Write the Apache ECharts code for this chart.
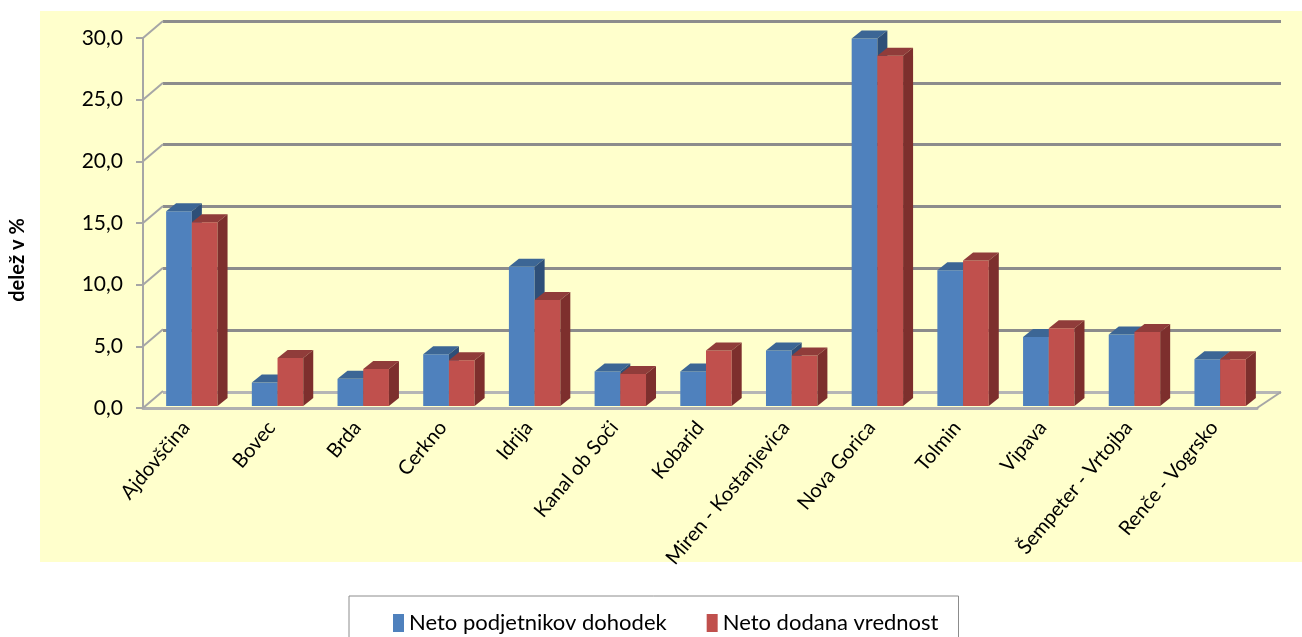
<!DOCTYPE html>
<html>
<head>
<meta charset="utf-8">
<script src="https://cdn.jsdelivr.net/npm/echarts@6/dist/echarts.min.js"></script>
<style>
  html, body { margin: 0; padding: 0; background: #fff; }
  #chart { width: 1302px; height: 637px; }
</style>
</head>
<body>
<div id="chart"></div>
<script>
const categories = ['Ajdovščina', 'Bovec', 'Brda', 'Cerkno', 'Idrija', 'Kanal ob Soči', 'Kobarid',
  'Miren - Kostanjevica', 'Nova Gorica', 'Tolmin', 'Vipava', 'Šempeter - Vrtojba', 'Renče - Vogrsko'];
const netoDohodek = [15.8, 1.9, 2.2, 4.2, 11.3, 2.8, 2.8, 4.5, 29.8, 11.0, 5.6, 5.8, 3.8];
const netoDodana = [14.9, 3.9, 3.0, 3.7, 8.6, 2.6, 4.5, 4.1, 28.4, 11.8, 6.3, 6.0, 3.8];
const yTicks = [0, 5, 10, 15, 20, 25, 30];

const FONT = 'Lato';

const chart = echarts.init(document.getElementById('chart'));

// 3d looking column drawn from the axis scales
function bar3d(slot, front, top, side) {
  return function (params, api) {
    const idx = api.value(0);
    const v = api.value(1);
    const c = api.coord([idx, v]);
    const b = api.coord([idx, 0]);
    const bw = api.size([1, 0])[0];
    const w = bw * 0.3;
    const x0 = c[0] - 0.23 * bw + slot * w;
    const yt = c[1] - 2;
    const yb = b[1] - 2;
    const dx = 10, dy = 8;
    return {
      type: 'group',
      children: [
        { type: 'rect', shape: { x: x0, y: yt, width: w, height: yb - yt }, style: { fill: front } },
        { type: 'polygon', shape: { points: [[x0, yt], [x0 + w, yt], [x0 + w + dx, yt - dy], [x0 + dx, yt - dy]] }, style: { fill: top } },
        { type: 'polygon', shape: { points: [[x0 + w, yt], [x0 + w + dx, yt - dy], [x0 + w + dx, yb - dy], [x0 + w, yb]] }, style: { fill: side } }
      ]
    };
  };
}

// left wall connectors from front ticks to back grid lines
function wallLine(params, api) {
  const c = api.coord([api.value(0), api.value(1)]);
  const bw = api.size([1, 0])[0];
  const x = c[0] + api.value(2) * bw / 2;
  const ddx = api.value(2) < 0 ? 20 : 24;
  const ddy = api.value(2) < 0 ? -17 : -16;
  return {
    type: 'line',
    shape: { x1: x, y1: c[1], x2: x + ddx, y2: c[1] + ddy },
    style: { stroke: '#a6a6a6', lineWidth: 2 }
  };
}

const option = {
  backgroundColor: '#ffffff',
  animation: false,
  textStyle: { fontFamily: FONT },
  graphic: [
    { type: 'rect', z: -100, shape: { x: 40, y: 11, width: 1262, height: 551 }, style: { fill: '#FFFFCC' } },
    {
      type: 'text', x: 18, y: 260, rotation: Math.PI / 2,
      style: { text: 'delež v %', font: 'bold 20px Lato', fill: '#000', align: 'center', verticalAlign: 'middle' }
    }
  ],
  legend: {
    data: ['Neto podjetnikov dohodek', 'Neto dodana vrednost'],
    left: 349,
    top: 596,
    icon: 'rect',
    itemWidth: 11,
    itemHeight: 18,
    itemGap: 40,
    padding: [16, 20, 30, 44],
    borderColor: '#8c8c8c',
    borderWidth: 1,
    textStyle: { fontFamily: FONT, fontSize: 22, color: '#000' }
  },
  grid: [
    { left: 143, right: 45, top: 38, bottom: 229 },
    { left: 163, right: 21, top: 21, bottom: 245 }
  ],
  xAxis: [
    {
      type: 'category',
      gridIndex: 0,
      data: categories,
      axisLine: { lineStyle: { color: '#b0b0b0', width: 3 } },
      axisTick: { length: 5, lineStyle: { color: '#a0a0a0', width: 2 } },
      axisLabel: { rotate: 50, margin: 16, fontSize: 20, color: '#000', fontFamily: FONT, interval: 0 }
    },
    { type: 'value', gridIndex: 1, show: false, min: 0, max: 1 }
  ],
  yAxis: [
    {
      type: 'value',
      gridIndex: 0,
      min: 0, max: 30, interval: 5,
      axisLine: { show: true, lineStyle: { color: '#a6a6a6', width: 2 } },
      axisTick: { show: true, length: 7, lineStyle: { color: '#a6a6a6', width: 2 } },
      splitLine: { show: false },
      axisLabel: {
        margin: 20, fontSize: 21, color: '#000', fontFamily: FONT,
        formatter: v => v.toFixed(1).replace('.', ',')
      }
    },
    {
      type: 'value',
      gridIndex: 1,
      min: 0, max: 30, interval: 5,
      axisLine: { show: false },
      axisTick: { show: false },
      axisLabel: { show: false },
      splitLine: {
        show: true,
        lineStyle: { color: ['#b6b6b6', '#8c8c8c', '#8c8c8c', '#8c8c8c', '#8c8c8c', '#8c8c8c', '#8c8c8c'], width: 3 }
      }
    }
  ],
  series: [
    {
      name: 'walls',
      type: 'custom',
      xAxisIndex: 0, yAxisIndex: 0,
      renderItem: wallLine,
      data: yTicks.map(v => [0, v, -1]).concat([[categories.length - 1, 0, 1]]),
      silent: true,
      z: 1
    },
    {
      name: 'Neto podjetnikov dohodek',
      type: 'custom',
      xAxisIndex: 0, yAxisIndex: 0,
      itemStyle: { color: '#4F81BD' },
      renderItem: bar3d(0, '#4F81BD', '#3C6695', '#2E4F78'),
      data: netoDohodek.map((v, i) => [i, v]),
      encode: { x: 0, y: 1 },
      z: 3
    },
    {
      name: 'Neto dodana vrednost',
      type: 'custom',
      xAxisIndex: 0, yAxisIndex: 0,
      itemStyle: { color: '#C0504D' },
      renderItem: bar3d(1, '#C0504D', '#903C3A', '#7D2F2D'),
      data: netoDodana.map((v, i) => [i, v]),
      encode: { x: 0, y: 1 },
      z: 4
    }
  ]
};

chart.setOption(option);
</script>
</body>
</html>
